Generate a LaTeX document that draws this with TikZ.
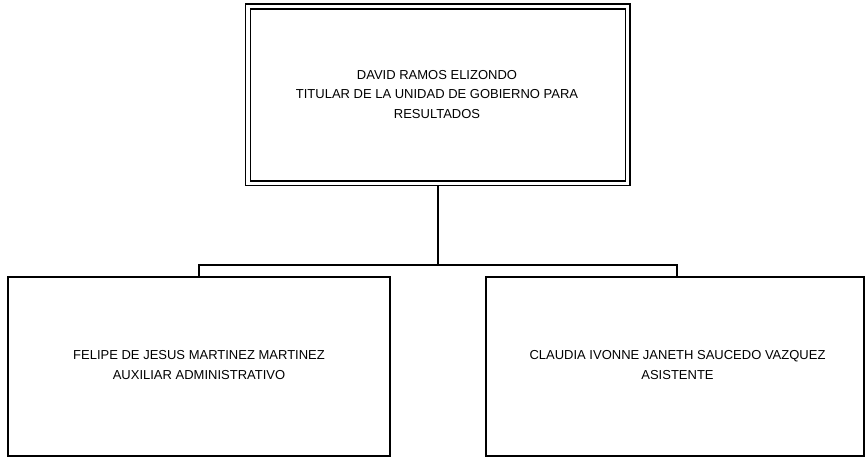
\documentclass[tikz,border=0pt]{standalone}
\usepackage{fontspec}
\setmainfont{Liberation Sans}
\begin{document}
\begin{tikzpicture}[x=1pt,y=-1pt,
  boxtext/.style={align=center,font=\fontsize{13}{19.5}\selectfont,inner sep=0pt},
  conn/.style={line width=2pt},
  framebox/.style={draw,line width=2pt}]
\useasboundingbox (0,0) rectangle (867,459);
% top box (double border)
\draw[line width=1.6pt] (245.5,4) rectangle (630,185.5);
\draw[line width=1.8pt] (250.5,9) rectangle (625.5,181);
\node[boxtext] (top) at (437,94.5) {DAVID RAMOS ELIZONDO\\TITULAR DE LA UNIDAD DE GOBIERNO PARA\\RESULTADOS};
\coordinate (topb) at (438,185.5);
% bottom boxes
\draw[framebox] (8,276.5) rectangle (390,456);
\draw[framebox] (486,276.5) rectangle (864,456);
\node[boxtext] (left) at (199,365) {FELIPE DE JESUS MARTINEZ MARTINEZ\\AUXILIAR ADMINISTRATIVO};
\node[boxtext] (right) at (677.5,365) {CLAUDIA IVONNE JANETH SAUCEDO VAZQUEZ\\ASISTENTE};
\coordinate (lt) at (198.5,276.5);
\coordinate (rt) at (677,276.5);
\coordinate (mid) at (438,264.5);
% connectors
\draw[conn] (topb) -- (mid);
\draw[conn] (lt) -- (lt |- mid) -- (rt |- mid) -- (rt);
\end{tikzpicture}
\end{document}
